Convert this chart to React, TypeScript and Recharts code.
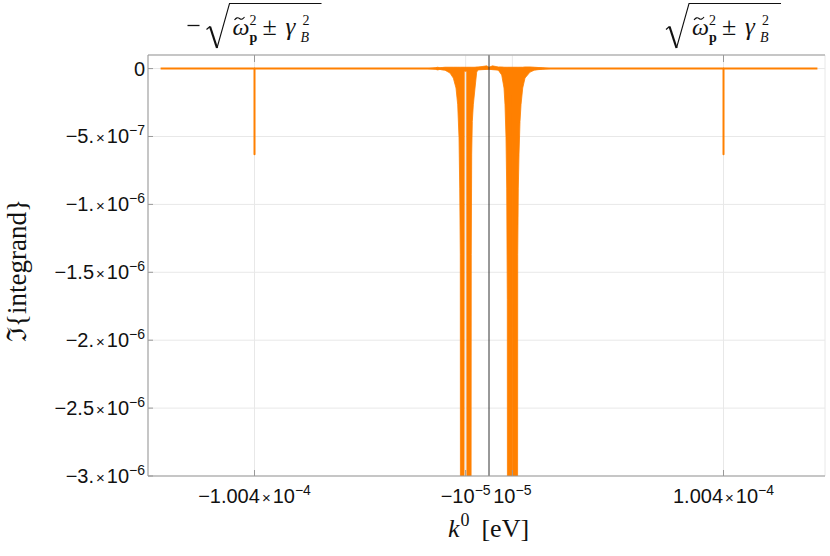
import React from 'react';
import { ComposedChart, Line, Area, XAxis, YAxis, CartesianGrid, ReferenceLine } from 'recharts';

const ORANGE = '#FF8000';
const FRAME = '#999999';
const TICK_FONT = '"Liberation Sans", Arial, sans-serif';
const SERIF = '"Liberation Serif", "DejaVu Serif", serif';

// Main curve (flat at zero with two narrow spikes at ±1.004e-4)
const curveK = [-1.406e-4, -1.00401e-4, -1.004e-4, -1.00399e-4, 1.00399e-4, 1.004e-4, 1.00401e-4, 1.406e-4];
const curveV = [0, 0, -6.3e-7, 0, 0, -6.3e-7, 0, 0];

// Densely oscillating region near k0 ≈ ±1e-5, drawn as its envelope
const bandK = [
  -2.6e-5, -2.3e-5, -2.2e-5, -2.1e-5, -2.0e-5, -1.884e-5, -1.67e-5, -1.528e-5, -1.413e-5, -1.34e-5,
  -1.284e-5, -1.254e-5, -1.229e-5, -1.22e-5, -1.07e-5, -1.06e-5, -9.55e-6, -9.45e-6, -7.71e-6, -7.6e-6,
  -7.41e-6, -7.15e-6, -6.72e-6, -5.99e-6, -5.27e-6, -4.71e-6, -3e-6, -1e-6, 0, 1.5e-6,
  3e-6, 3.98e-6, 5.44e-6, 6.42e-6, 6.85e-6, 7.28e-6, 7.58e-6, 7.83e-6, 7.92e-6, 9.85e-6,
  1.0e-5, 1.015e-5, 1.22e-5, 1.229e-5, 1.254e-5, 1.284e-5, 1.327e-5, 1.37e-5, 1.443e-5, 1.541e-5,
  1.755e-5, 1.939e-5, 2.1e-5, 2.3e-5, 2.6e-5,
];
const bandLow = [
  0, -5e-9, -1e-8, -6e-9, -1e-8, -1.2e-8, -3.3e-8, -7e-8, -1.43e-7, -2.67e-7,
  -5.1e-7, -8.8e-7, -1.37e-6, -4e-6, -4e-6, -2e-8, -2e-8, -4e-6, -4e-6, -1.37e-6,
  -6.3e-7, -3.9e-7, -2.67e-7, -1.43e-7, -2.6e-8, -1e-8, -8e-9, -6e-9, -5e-9, -8e-9,
  -1e-8, -1.2e-8, -4.7e-8, -1.43e-7, -2.67e-7, -5.1e-7, -8.8e-7, -1.7e-6, -4e-6, -4e-6,
  -2e-7, -4e-6, -4e-6, -1.37e-6, -8.8e-7, -6.3e-7, -3.9e-7, -2.67e-7, -1.43e-7, -7e-8,
  -2.6e-8, -1.2e-8, -8e-9, -5e-9, 0,
];
const bandHigh = [
  0, 6e-9, 1e-8, 6e-9, 8e-9, 1e-8, 1e-8, 1e-8, 1e-8, 1e-8,
  1e-8, 1e-8, 1e-8, 1e-8, 1e-8, 1e-8, 1e-8, 1e-8, 1e-8, 1e-8,
  1e-8, 1e-8, 1e-8, 1e-8, 1.2e-8, 1.2e-8, 1.5e-8, 2e-8, 1e-8, 2e-8,
  1.5e-8, 1.2e-8, 1.2e-8, 1e-8, 1e-8, 1e-8, 1e-8, 1e-8, 1e-8, 1e-8,
  1e-8, 1e-8, 1e-8, 1e-8, 1e-8, 1e-8, 1e-8, 1e-8, 1e-8, 1.2e-8,
  1.2e-8, 1e-8, 8e-9, 6e-9, 0,
];

// Ticks
const xTickValues = [-1.004e-4, -1e-5, 1e-5, 1.004e-4];
const xTickBase = ['−1.004×10', '−10', '10', '1.004×10'];
const xTickExp = ['−4', '−5', '−5', '−4'];

const topTickValues = [-1.004e-4, 1.004e-4];
const topTickSign = ['−', ''];

const yTickValues = [0, -5e-7, -1e-6, -1.5e-6, -2e-6, -2.5e-6, -3e-6];
const yTickBase = ['0', '−5.×10', '−1.×10', '−1.5×10', '−2.×10', '−2.5×10', '−3.×10'];
const yTickExp = ['', '−7', '−6', '−6', '−6', '−6', '−6'];
const yMinorTicks = [
  -1e-7, -2e-7, -3e-7, -4e-7, -6e-7, -7e-7, -8e-7, -9e-7,
  -1.1e-6, -1.2e-6, -1.3e-6, -1.4e-6, -1.6e-6, -1.7e-6, -1.8e-6, -1.9e-6,
  -2.1e-6, -2.2e-6, -2.3e-6, -2.4e-6, -2.6e-6, -2.7e-6, -2.8e-6, -2.9e-6,
];

const X_DOMAIN: [number, number] = [-1.46e-4, 1.4385e-4];
const Y_DOMAIN: [number, number] = [-3e-6, 1e-7];

const curveData = curveK.map((k, i) => ({ k, v: curveV[i] }));
const bandData = bandK.map((k, i) => ({ k, band: [bandLow[i], bandHigh[i]] }));

const TickText = ({ x, y, anchor, base, exp }: any) => {
  const parts = base.split('×');
  const hasTimes = parts.length > 1;
  return (
    <text x={x} y={y} textAnchor={anchor} fontSize={20} fontFamily={TICK_FONT} fill="#111">
      <tspan>{parts[0]}</tspan>
      {hasTimes && <tspan fontSize={15} dx={2}>×</tspan>}
      {hasTimes && <tspan dx={2}>{parts[1]}</tspan>}
      {exp !== '' && <tspan fontSize={14} dy={-8}>{exp}</tspan>}
    </text>
  );
};

const BottomTick = (props: any) => {
  const { x, y, payload } = props;
  const i = xTickValues.indexOf(payload.value);
  if (i < 0) return <g />;
  return <TickText x={x} y={y + 27} anchor="middle" base={xTickBase[i]} exp={xTickExp[i]} />;
};

const LeftTick = (props: any) => {
  const { x, y, payload } = props;
  const i = yTickValues.indexOf(payload.value);
  if (i < 0) return <g />;
  return <TickText x={x + 2} y={y + 7} anchor="end" base={yTickBase[i]} exp={yTickExp[i]} />;
};

const EmptyTick = () => <g />;

const TopTick = (props: any) => {
  const { x, y, payload } = props;
  const i = topTickValues.indexOf(payload.value);
  if (i < 0) return <g />;
  const sign = topTickSign[i];
  const hasSign = sign !== '';
  const total = hasSign ? 134 : 115;
  const hx = x - total / 2 + (hasSign ? 19 : 0);
  const top = y - 51.5;
  const base = y - 20;
  return (
    <g>
      {hasSign && <line x1={hx - 19} x2={hx - 7} y1={top + 22} y2={top + 22} stroke="#111" strokeWidth={1.3} />}
      <path d={`M ${hx} ${top + 26} L ${hx + 3.5} ${top + 23}`} stroke="#111" strokeWidth={1.2} fill="none" />
      <path d={`M ${hx + 3.5} ${top + 23} L ${hx + 10.5} ${top + 44.5}`} stroke="#111" strokeWidth={2.2} fill="none" />
      <path d={`M ${hx + 10.5} ${top + 44.5} L ${hx + 23} ${top} L ${hx + 115} ${top}`} stroke="#111" strokeWidth={1.1} fill="none" />
      <path d={`M ${hx + 28} ${top + 16.5} Q ${hx + 30.5} ${top + 13} ${hx + 33} ${top + 15} T ${hx + 38} ${top + 13.5}`} stroke="#111" strokeWidth={1.1} fill="none" />
      <text fontFamily={SERIF} fill="#111">
        <tspan x={hx + 26} y={base} fontSize={24} fontStyle="italic">ω</tspan>
        <tspan x={hx + 43} y={base - 10} fontSize={14}>2</tspan>
        <tspan x={hx + 43} y={base + 7} fontSize={14} fontWeight="bold">p</tspan>
        <tspan x={hx + 56} y={base} fontSize={26}>±</tspan>
        <tspan x={hx + 79} y={base} fontSize={25} fontStyle="italic">γ</tspan>
        <tspan x={hx + 96} y={base - 10} fontSize={14}>2</tspan>
        <tspan x={hx + 94} y={base + 7} fontSize={14} fontStyle="italic">B</tspan>
      </text>
    </g>
  );
};

const XLabel = (props: any) => {
  const { x, y, width } = props.viewBox;
  const cx = x + width / 2;
  return (
    <text x={cx + 2} y={y + 61} textAnchor="middle" fontFamily={SERIF} fontSize={26} fill="#111">
      <tspan fontStyle="italic">k</tspan>
      <tspan fontSize={18} dy={-11} dx={1}>0</tspan>
      <tspan dy={11} dx={12}>[eV]</tspan>
    </text>
  );
};

const YLabel = (props: any) => {
  const { x, y, height } = props.viewBox;
  const cx = x + 26;
  const cy = y + height / 2 + 5;
  return (
    <text x={cx} y={cy} transform={`rotate(-90 ${cx} ${cy})`} textAnchor="middle" fontFamily={SERIF} fontSize={27} fill="#111">
      ℑ{'{'}integrand{'}'}
    </text>
  );
};

export default function App() {
  return (
    <div style={{ position: 'absolute', left: 0, top: 0, width: 830, height: 556, background: '#fff' }}>
      <ComposedChart width={830} height={556} margin={{ top: 0, right: 5, bottom: 0, left: 0 }}>
        <CartesianGrid stroke="#e8e8e8" strokeWidth={1} />
        <YAxis
          yAxisId="leftMinor"
          orientation="left"
          width={0}
          type="number"
          domain={Y_DOMAIN}
          allowDataOverflow
          ticks={yMinorTicks}
          interval={0}
          tickSize={-3}
          tick={EmptyTick}
          axisLine={false}
          stroke={FRAME}
        />
        <YAxis
          orientation="left"
          width={148}
          type="number"
          domain={Y_DOMAIN}
          allowDataOverflow
          ticks={yTickValues}
          interval={0}
          tickSize={-5}
          tickMargin={10}
          tick={LeftTick}
          stroke={FRAME}
          label={{ content: YLabel }}
        />
        <YAxis
          yAxisId="right"
          orientation="right"
          width={0}
          type="number"
          domain={Y_DOMAIN}
          allowDataOverflow
          ticks={yTickValues}
          interval={0}
          tickSize={-5}
          tick={EmptyTick}
          stroke={FRAME}
        />
        <YAxis
          yAxisId="rightMinor"
          orientation="right"
          width={0}
          type="number"
          domain={Y_DOMAIN}
          allowDataOverflow
          ticks={yMinorTicks}
          interval={0}
          tickSize={-3}
          tick={EmptyTick}
          axisLine={false}
          stroke={FRAME}
        />
        <XAxis
          dataKey="k"
          type="number"
          orientation="bottom"
          height={80}
          domain={X_DOMAIN}
          allowDataOverflow
          ticks={xTickValues}
          interval={0}
          tickSize={-6}
          tickMargin={6}
          tick={BottomTick}
          stroke={FRAME}
          label={{ content: XLabel }}
        />
        <XAxis
          xAxisId="top"
          dataKey="k"
          type="number"
          orientation="top"
          height={55}
          domain={X_DOMAIN}
          allowDataOverflow
          ticks={topTickValues}
          interval={0}
          tickSize={-7}
          tickMargin={7}
          tick={TopTick}
          stroke={FRAME}
        />
        <Area
          data={bandData}
          dataKey="band"
          type="linear"
          fill={ORANGE}
          fillOpacity={1}
          stroke={ORANGE}
          strokeWidth={0.8}
          dot={false}
          activeDot={false}
          isAnimationActive={false}
        />
        <Line
          data={curveData}
          dataKey="v"
          type="linear"
          stroke={ORANGE}
          strokeWidth={2}
          strokeLinejoin="round"
          dot={false}
          activeDot={false}
          isAnimationActive={false}
        />
        <ReferenceLine x={0} stroke="#333" strokeWidth={1} />
      </ComposedChart>
    </div>
  );
}
